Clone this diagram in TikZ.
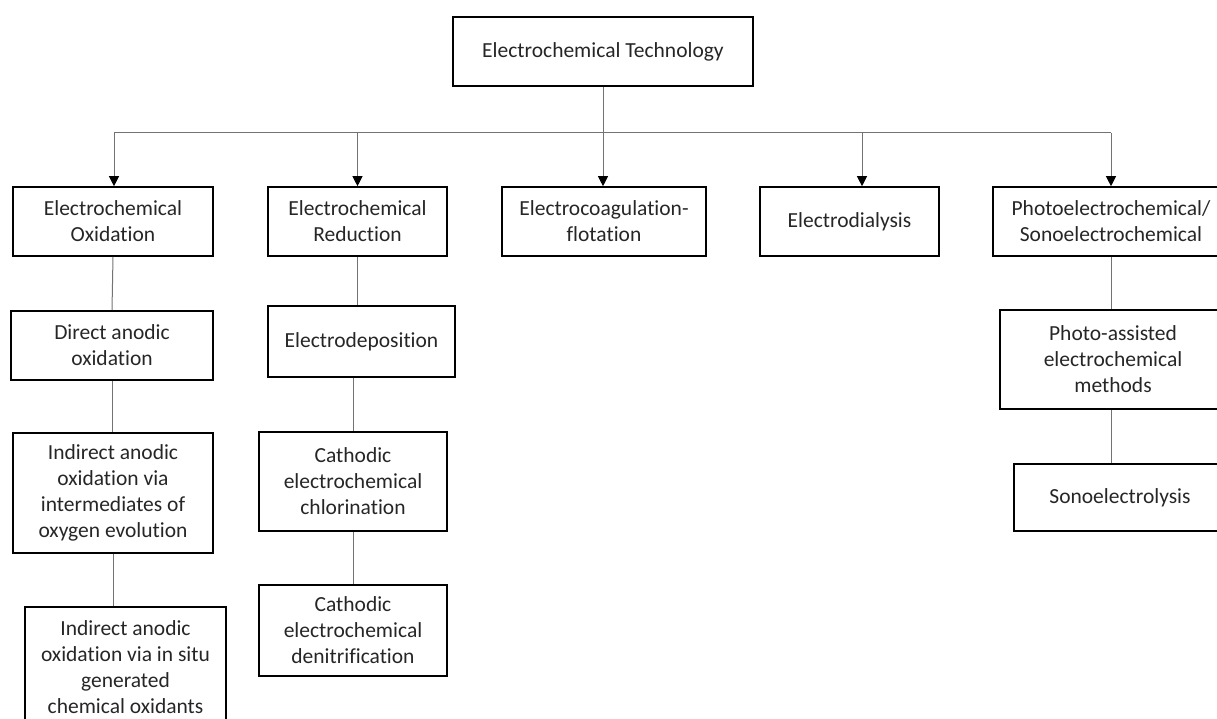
\documentclass[tikz,border=0pt]{standalone}
\usepackage{fontspec}
\setmainfont{Carlito}[RawFeature={-liga}]
\usetikzlibrary{arrows.meta}
\begin{document}
\begin{tikzpicture}[x=1pt,y=-1pt,
  box/.style={draw=black, line width=1.6pt, inner sep=0pt, align=center,
    font=\fontsize{21.5}{26}\selectfont, text=black!85},
  link/.style={draw=black!55, line width=1pt},
  arr/.style={link, -{Triangle[length=10pt,width=10pt,color=black]}}]
\useasboundingbox (0,0) rectangle (1217,719);
\clip (0,0) rectangle (1217,719);
% top level
\node[box, minimum width=300pt, minimum height=69pt] (root) at (603,51.5) {Electrochemical Technology};
% second level
\node[box, minimum width=200pt, minimum height=69pt] (ox)  at (113,221.5) {Electrochemical\\Oxidation};
\node[box, minimum width=179pt, minimum height=69pt] (red) at (357.5,221.5) {Electrochemical\\Reduction};
\node[box, minimum width=204pt, minimum height=69pt] (ecf) at (604,221.5) {Electrocoagulation-\\flotation};
\node[box, minimum width=179pt, minimum height=69pt] (ed)  at (849.5,221.5) {Electrodialysis};
\node[box, minimum width=236pt, minimum height=69pt] (pho) at (1111,221.5) {Photoelectrochemical/\\Sonoelectrochemical};
% column 1
\node[box, minimum width=202pt, minimum height=69pt]  (dao) at (112,345.5) {Direct anodic\\oxidation};
\node[box, minimum width=200pt, minimum height=120pt] (ia1) at (113,493) {Indirect anodic\\oxidation via\\intermediates of\\oxygen evolution};
\node[box, minimum width=201pt, minimum height=120pt] (ia2) at (125.5,667) {Indirect anodic\\oxidation via in situ\\generated\\chemical oxidants};
% column 2
\node[box, minimum width=187pt, minimum height=71pt] (edep) at (361.5,341.5) {Electrodeposition};
\node[box, minimum width=188pt, minimum height=99pt] (ccl)  at (353,481.5) {Cathodic\\electrochemical\\chlorination};
\node[box, minimum width=188pt, minimum height=91pt] (cdn)  at (353,630.5) {Cathodic\\electrochemical\\denitrification};
% column 5
\node[box, minimum width=226pt, minimum height=99pt] (pam) at (1113,359.5) {Photo-assisted\\electrochemical\\methods};
\node[box, minimum width=212pt, minimum height=67pt] (son) at (1120,497.5) {Sonoelectrolysis};
% bus and arrows
\coordinate (bl) at (114,133);
\coordinate (br) at (1111,133);
\coordinate (edx) at (862,133);
\draw[link] (bl) -- (br);
\draw[arr] (bl) -- (bl |- ox.north);
\draw[arr] (red.north |- bl) -- (red.north);
\draw[arr] (root.south) -- (root.south |- ecf.north);
\draw[arr] (edx) -- (edx |- ed.north);
\draw[arr] (br) -- (br |- pho.north);
% vertical links
\draw[link] (ox.south) -- (dao.north);
\draw[link] (dao.south) -- (dao.south |- ia1.north);
\draw[link] (ia1.south) -- (ia1.south |- ia2.north);
\draw[link] (red.south) -- (red.south |- edep.north);
\draw[link] (ccl.north |- edep.south) -- (ccl.north);
\draw[link] (ccl.south) -- (cdn.north);
\draw[link] (pho.south) -- (pho.south |- pam.north);
\draw[link] (pho.south |- pam.south) -- (pho.south |- son.north);
\end{tikzpicture}
\end{document}
